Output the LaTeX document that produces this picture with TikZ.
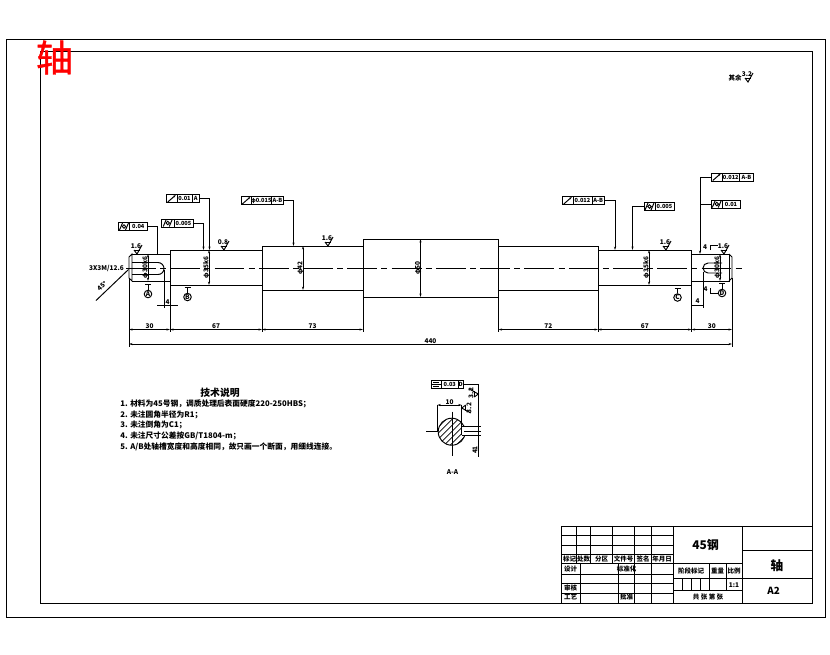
\documentclass[tikz,border=0pt]{standalone}
\usepackage{fontspec}
\setmainfont{Noto Sans CJK SC}
\newfontfamily\bigcjk[FakeBold=1.2]{Noto Sans CJK SC}
\usetikzlibrary{positioning,arrows.meta}
\tikzset{
  tiny/.style={font=\fontsize{3.7}{4}\selectfont\bfseries, inner sep=0pt},
  note/.style={font=\fontsize{4.4}{5}\selectfont\bfseries, inner sep=0pt, anchor=west},
  tolcell/.style={draw, font=\fontsize{3.2}{4}\selectfont\bfseries, minimum height=0.16cm, inner sep=0pt, outer sep=0pt},
  cline/.style={dash pattern=on 17pt off 2.4pt on 3.4pt off 2.4pt},
  tip/.style={>={Stealth[length=2pt,width=1.2pt]}},
  dim/.style={<->, tip},
  secmark/.style={draw, circle, tiny, minimum size=0.15cm},
  cylsym/.style={path picture={
    \draw (path picture bounding box.center) circle (1.8);
    \draw (path picture bounding box.center) ++(-4.5,3.5) -- ++(3,-7);
    \draw (path picture bounding box.center) ++(1.5,3.5) -- ++(3,-7);
  }},
  runsym/.style={path picture={
    \draw[->, >={Stealth[length=1.6pt,width=1.2pt]}] (path picture bounding box.center) ++(-4,3.5) -- ++(8,-7);
  }},
  symsym/.style={path picture={
    \draw (path picture bounding box.center) ++(-3,-2) -- ++(6,0);
    \draw (path picture bounding box.center) ++(-4.5,0) -- ++(9,0);
    \draw (path picture bounding box.center) ++(-3,2) -- ++(6,0);
  }},
  rough/.pic={
    \draw (-3,-4) -- (0,0) -- (5,-9);
    \draw (-3,-4) -- (3,-4);
    \node[tiny] at (-1,-8) {#1};
  }
}
\begin{document}
\begin{tikzpicture}[x=0.02cm, y=-0.02cm, line width=0.55pt]
\useasboundingbox (0,0) rectangle (830,654);
% frames
\draw (6,39) rectangle (825,617);
\draw (40,51) rectangle (812,603);
\node[text=red, font=\fontsize{21}{21}\bigcjk, inner sep=0pt] (bigname) at (54.5,57.5) {轴};
\node[tiny] (restnote) at (735,77.5) {其余};
\path (748,82) pic {rough=3.2};

% shaft
\draw (132,254) -- (170,254) (132,281) -- (170,281);
\draw (132,254) -- (129,257) -- (129,278) -- (132,281) -- cycle;
\draw (170,250) rectangle (262,285.5);
\draw (262,246) rectangle (363,290);
\draw (363,239) rectangle (498.5,297);
\draw (498.5,246) rectangle (598,290);
\draw (598,250) rectangle (691.5,285);
\draw (691.5,254) -- (729,254) -- (729,281) -- (691.5,281);
\draw (729,254) -- (732,257) -- (732,278) -- (729,281);
\draw[cline] (126,268) -- (743,268);
% key ways
\draw (132,262.5) -- (158,262.5) arc[start angle=-90, end angle=90, radius=6] -- (132,274.5);
\draw (722,263) -- (708,263) arc[start angle=-90, end angle=-270, radius=5] -- (722,273);

% diameters
\foreach \xa/\ya/\yb/\lab in {148/254/281/φ30k6, 209/250/285/φ35k6, 303/246/290/φ42, 420.5/239/297/φ50, 649/250/285/φ35k6, 720/254/281/φ30k6}
  \draw[dim] (\xa,\ya) -- node[tiny, rotate=90, yshift=0.05cm] {\lab} (\xa,\yb);

% length dimensions
\foreach \xa/\ya in {170/285.5, 262/290, 363/297, 498.5/297, 598/290, 691.5/285}
  \draw (\xa,\ya) -- (\xa,332);
\draw (129,278) -- (129,347);
\draw (732,278) -- (732,347);
\foreach \xa/\xb/\lab in {129/170/30, 170/262/67, 262/363/73, 498.5/598/72, 598/691.5/67, 691.5/732/30}
  \draw[dim] (\xa,329.5) -- node[tiny, yshift=0.06cm] {\lab} (\xb,329.5);
\draw[dim] (129,344) -- node[tiny, yshift=0.06cm] {440} (732,344);
\draw (157,305.5) -- (178,305.5);
\draw (164,270) -- (164,308) (170,290) -- (170,308);
\node[tiny] (ldim) at (167.5,302.5) {4};
\draw (692,305.5) -- (703,305.5);
\draw (703,272) -- (703,308);
\node[tiny] (rdim) at (697.5,301.5) {4};

% centre hole note
\node[tiny] (holenote) at (106.5,268) {3X3M/12.6};
\coordinate (holetip) at (128.5,269.5);
\coordinate (holeend) at (96,300.5);
\draw (holeend) -- (holetip);
\node[tiny, rotate=40] (holeang) at (102,286) {45°};

% section marks
\foreach \nam/\xa/\ya/\lab in {secA/148/294/A, secB/187.5/297/B, secC/677.5/297.5/C, secD/722/293/D} {
  \node[secmark] (\nam) at (\xa,\ya) {\lab};
  \draw (\nam.north) -- ++(0,-5) ++(-3,0) -- ++(6,0);
}
\node[tiny] (dlab) at (705.5,289) {4};
\draw (710,288) -- (710,293) -- (secD.west);
\node[tiny] (ulab) at (705,247.5) {4};
\draw (710,250) -- (710,245) -- (718,245);

% tolerance frames
\node[tolcell, cylsym, minimum width=0.22cm, anchor=west] (fa1) at (118.5,226.5) {};
\node[tolcell, minimum width=0.35cm, right=0pt of fa1] (fa2) {0.04};
\coordinate (fa) at (157,254);
\draw (fa2.east) -| (fa);
\node[tolcell, cylsym, minimum width=0.25cm, anchor=west] (fb1) at (161.5,223) {};
\node[tolcell, minimum width=0.38cm, right=0pt of fb1] (fb2) {0.005};
\coordinate (fb) at (203.5,250);
\draw[->, tip] (fb2.east) -| (fb);
\node[tolcell, runsym, minimum width=0.21cm, anchor=west] (fc1) at (166.5,198.5) {};
\node[tolcell, minimum width=0.30cm, right=0pt of fc1] (fc2) {0.01};
\node[tolcell, minimum width=0.15cm, right=0pt of fc2] (fc3) {A};
\coordinate (fc) at (209.5,250);
\draw[->, tip] (fc3.east) -| (fc);
\node[tolcell, runsym, minimum width=0.19cm, anchor=west] (fd1) at (241.5,200.5) {};
\node[tolcell, minimum width=0.40cm, right=0pt of fd1] (fd2) {φ0.015};
\node[tolcell, minimum width=0.24cm, right=0pt of fd2] (fd3) {A-B};
\coordinate (fd) at (293.5,246);
\draw[->, tip] (fd3.east) -| (fd);
\node[tolcell, runsym, minimum width=0.21cm, anchor=west] (fe1) at (562.5,200.5) {};
\node[tolcell, minimum width=0.38cm, right=0pt of fe1] (fe2) {0.012};
\node[tolcell, minimum width=0.25cm, right=0pt of fe2] (fe3) {A-B};
\coordinate (fe) at (615,250);
\draw[->, tip] (fe3.east) -| (fe);
\node[tolcell, cylsym, minimum width=0.22cm, anchor=west] (ff1) at (644,206.5) {};
\node[tolcell, minimum width=0.38cm, right=0pt of ff1] (ff2) {0.005};
\coordinate (ff) at (632.5,250);
\draw[->, tip] (ff1.west) -| (ff);
\node[tolcell, runsym, minimum width=0.21cm, anchor=west] (fg1) at (711.5,177) {};
\node[tolcell, minimum width=0.35cm, right=0pt of fg1] (fg2) {0.012};
\node[tolcell, minimum width=0.28cm, right=0pt of fg2] (fg3) {A-B};
\coordinate (fg) at (700,254);
\draw[->, tip] (fg1.west) -| (fg);
\node[tolcell, cylsym, minimum width=0.21cm, anchor=west] (fh1) at (711.5,204) {};
\node[tolcell, minimum width=0.36cm, right=0pt of fh1] (fh2) {0.01};
\draw (fh1.west) -- (700,204);

% surface marks on shaft
\path (137,254) pic {rough=1.6};
\path (224,250) pic {rough=0.8};
\path (328,246) pic {rough=1.6};
\path (666,250) pic {rough=1.6};
\path (724,254) pic {rough=1.6};

% notes
\node[font=\fontsize{5.6}{6}\selectfont\bfseries, inner sep=0pt] (noteh) at (220,393) {技术说明};
\node[note] (n1) at (120,404) {1. 材料为45号钢，调质处理后表面硬度220-250HBS；};
\node[note] (n2) at (120,414.5) {2. 未注圆角半径为R1；};
\node[note] (n3) at (120,425) {3. 未注倒角为C1；};
\node[note] (n4) at (120,436) {4. 未注尺寸公差按GB/T1804-m；};
\node[note] (n5) at (120,446.5) {5. A/B处轴槽宽度和高度相同，故只画一个断面，用细线连接。};

% section A-A
\begin{scope}
  \clip (451.7,431.7) circle (13.5);
  \foreach \d in {-24,-18,...,24}
    \draw[line width=0.4pt] (451.7+\d-20,451.7) -- (451.7+\d+20,411.7);
\end{scope}
\draw (451.7,431.7) circle (13.5);
\fill[white] (461.5,427) rectangle (466,435);
\draw (461.5,427) -- (461.5,435);
\draw (426,431.5) -- (438,431.5);
\draw (452.3,411.5) -- (452.3,456);
\draw (464,431.5) -- (481,431.5);
\draw (437.3,431) -- (437.3,405) (461.7,431) -- (461.7,405);
\draw[dim] (437.3,405) -- node[tiny, yshift=0.06cm] {10} (461.7,405);
\draw (461.7,426.5) -- (481,426.5) (461.7,435) -- (481,435);
\node[tolcell, symsym, minimum width=0.21cm, anchor=west] (fs1) at (431,384.5) {};
\node[tolcell, minimum width=0.33cm, right=0pt of fs1] (fs2) {0.03};
\node[tolcell, minimum width=0.11cm, right=0pt of fs2] (fs3) {D};
\coordinate (fs) at (478.5,457);
\draw (fs3.east) -| (fs);
\path (478.3,394) pic[rotate=90] {rough=};
\node[tiny, rotate=90] (rougha) at (471,393) {3.2};
\path (461.7,408) pic[rotate=-90] {rough=};
\node[tiny, rotate=90] (roughb) at (469,408) {3.2};
\node[tiny, rotate=90] (kdim) at (475,450) {41};
\node[tiny] (seclab) at (452.5,472) {A-A};

% title block
\draw (561.7,526) rectangle (812,603);
\foreach \ya in {535.7,545.7,554,563.3}
  \draw (561.7,\ya) -- (673.3,\ya);
\foreach \xa in {576.7,590.7,612.7,634.7,651.3}
  \draw (\xa,526) -- (\xa,563.3);
\foreach \ya in {574,583.3,593}
  \draw (561.7,\ya) -- (673.3,\ya);
\foreach \xa in {580,618.3,634.7,651.3}
  \draw (\xa,563.3) -- (\xa,603);
\draw (673.3,526) -- (673.3,603) (742.7,526) -- (742.7,603);
\draw (673.3,563.3) -- (742.7,563.3) (673.3,578.7) -- (742.7,578.7) (673.3,590.3) -- (742.7,590.3);
\draw (709.3,563.3) -- (709.3,590.3) (726,563.3) -- (726,590.3);
\foreach \xa in {682,691,700}
  \draw (\xa,578.7) -- (\xa,590.3);
\draw (742.7,550.3) -- (812,550.3) (742.7,578.7) -- (812,578.7);
\foreach \xa/\ya/\lab in {569.5/559.3/标记, 583.5/559.3/处数, 601.5/559.3/分区, 623.5/559.3/文件号, 643/559.3/签名, 662/559.3/年月日,
  570.5/569.3/设计, 626.5/569.3/标准化, 570.5/588/审核, 570.5/597/工艺, 626.5/597/批准,
  691/571/阶段标记, 717.5/571/重量, 734/571/比例, 734/585/1:1, 708/596.7/共\ 张\ 第\ 张}
  \node[tiny] at (\xa,\ya) {\lab};
\node[font=\fontsize{6.8}{7}\selectfont\bfseries, inner sep=0pt] (matl) at (705.5,544.5) {45钢};
\node[font=\fontsize{7.2}{8}\selectfont\bfseries, inner sep=0pt] (partname) at (777,565.5) {轴};
\node[font=\fontsize{5.6}{6}\selectfont\bfseries, inner sep=0pt] (sheet) at (773.5,590.5) {A2};
\end{tikzpicture}
\end{document}
